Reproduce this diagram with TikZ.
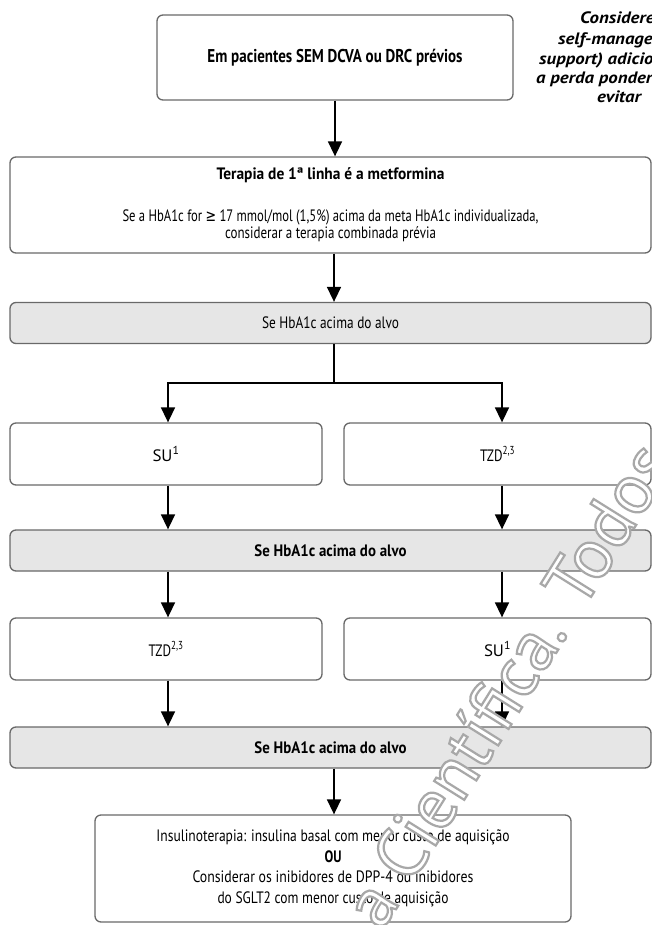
\documentclass[tikz,border=0pt]{standalone}
\usepackage{fontspec}
\usepackage{graphicx}
\usetikzlibrary{arrows.meta}
% faces for the flowchart texts
\newfontfamily\regf{PT Sans}
\newfontfamily\notef{PT Sans}[FakeStretch=1.14]
\newfontfamily\symf{DejaVu Sans}
\newfontfamily\wmf{PT Sans}
\definecolor{boxline}{RGB}{105,105,105}
\definecolor{panel}{RGB}{230,230,230}
% set a line to a given width, keeping its height (condensed look)
\newcommand{\fitw}[2]{\resizebox{#1}{\height}{#2}}
% hollow (stroked, white-filled) lettering for the diagonal mark
\newcommand{\hollow}[1]{\special{pdf:literal direct 2 Tr 2.2 w 0.66 G}#1\special{pdf:literal direct 0 Tr}}

\begin{document}
\begin{tikzpicture}[x=1pt,y=-1pt,
  box/.style={draw=boxline, line width=1.3pt, rounded corners=6pt, fill=white,
    inner sep=0pt, align=center, font=\regf\fontsize{16.5}{17.5}\selectfont},
  panelbox/.style={box, fill=panel},
  boldtext/.style={font=\regf\bfseries\fontsize{16.5}{17.5}\selectfont},
  arr/.style={draw=black, line width=1.6pt, -{Triangle[length=15pt,width=14pt]}},
  conn/.style={draw=black, line width=1.6pt},
  note/.style={anchor=base west, inner sep=0pt,
    font=\notef\bfseries\itshape\fontsize{16.5}{18}\selectfont},
  wm/.style={text=white, inner sep=0pt, font=\wmf\fontsize{71}{76}\selectfont}]

\fill[white] (0,0) rectangle (652,925);
\useasboundingbox (0,0) rectangle (652,925);
\clip (0,0) rectangle (652,925);

% column guides
\coordinate (colM) at (334,0);
\coordinate (colL) at (168,0);
\coordinate (colR) at (502,0);
\coordinate (fork) at (334,383);

% boxes
\node[box, font=\regf\bfseries\fontsize{18.5}{20}\selectfont,
      minimum width=356pt, minimum height=85pt] (start) at (335,57.5)
  {\fitw{255pt}{Em pacientes SEM DCVA ou DRC prévios}};
\node[box, minimum width=641pt, minimum height=96pt] (metf) at (330.5,205)
  {\fitw{228pt}{\bfseries Terapia de 1ª linha é a metformina}\\[24pt]
   \fitw{416pt}{Se a HbA1c for {\symf ≥} 17 mmol/mol (1,5\%) acima da meta HbA1c individualizada,}\\
   \fitw{211pt}{considerar a terapia combinada prévia}};
\node[panelbox, minimum width=641pt, minimum height=41pt] (chk1) at (330.5,323)
  {\fitw{137pt}{Se HbA1c acima do alvo}};
\node[box, minimum width=312pt, minimum height=62pt] (suA) at (166,454)
  {\fitw{27pt}{SU\textsuperscript{1}}};
\node[box, minimum width=307pt, minimum height=62pt] (tzdA) at (497.5,454)
  {\fitw{35pt}{TZD\textsuperscript{2,3}}};
\node[panelbox, boldtext, minimum width=641pt, minimum height=41pt] (chk2) at (330.5,550.5)
  {\fitw{152pt}{Se HbA1c acima do alvo}};
\node[box, minimum width=312pt, minimum height=62pt] (tzdB) at (166,649)
  {\fitw{35pt}{TZD\textsuperscript{2,3}}};
\node[box, minimum width=307pt, minimum height=62pt] (suB) at (497.5,649)
  {\fitw{27pt}{SU\textsuperscript{1}}};
\node[panelbox, boldtext, minimum width=641pt, minimum height=41pt] (chk3) at (330.5,747.5)
  {\fitw{152pt}{Se HbA1c acima do alvo}};
\node[box, minimum width=476pt, minimum height=107pt, font=\regf\fontsize{16.5}{20.5}\selectfont]
  (final) at (333,868.5)
  {\fitw{353pt}{Insulinoterapia: insulina basal com menor custo de aquisição}\\
   \fitw{17pt}{\bfseries OU}\\
   \fitw{281pt}{Considerar os inibidores de DPP-4 ou inibidores}\\
   \fitw{231pt}{do SGLT2 com menor custo de aquisição}};

% connectors
\draw[arr] (start.south) -- (metf.north -| start.south);
\draw[arr] (metf.south -| colM) -- (chk1.north -| colM);
\draw[conn] (chk1.south -| colM) -- (fork);
\draw[arr] (fork) -| (suA.north -| colL);
\draw[arr] (fork) -| (tzdA.north -| colR);
\draw[arr] (suA.south -| colL) -- (chk2.north -| colL);
\draw[arr] (tzdA.south -| colR) -- (chk2.north -| colR);
\draw[arr] (chk2.south -| colL) -- (tzdB.north -| colL);
\draw[arr] (chk2.south -| colR) -- (suB.north -| colR);
\draw[arr] (tzdB.south -| colL) -- (chk3.north -| colL);
\draw[arr] (suB.south -| colR) -- (chk3.north -| colR);
\draw[arr] (chk3.south -| colM) -- (final.north -| colM);

% side note, running off the right edge
\node[note] (n1) at (580,24) {Considere};
\node[note] (n2) at (558,45) {self-management};
\node[note] (n3) at (539,65) {support) adicional};
\node[note] (n4) at (536,84) {a perda ponderal};
\node[note] (n5) at (597,103) {evitar};

% diagonal publisher mark
\node[wm, rotate=58] (mark) at (507,684) {\hollow{a Científica. Todos}};
\end{tikzpicture}
\end{document}
